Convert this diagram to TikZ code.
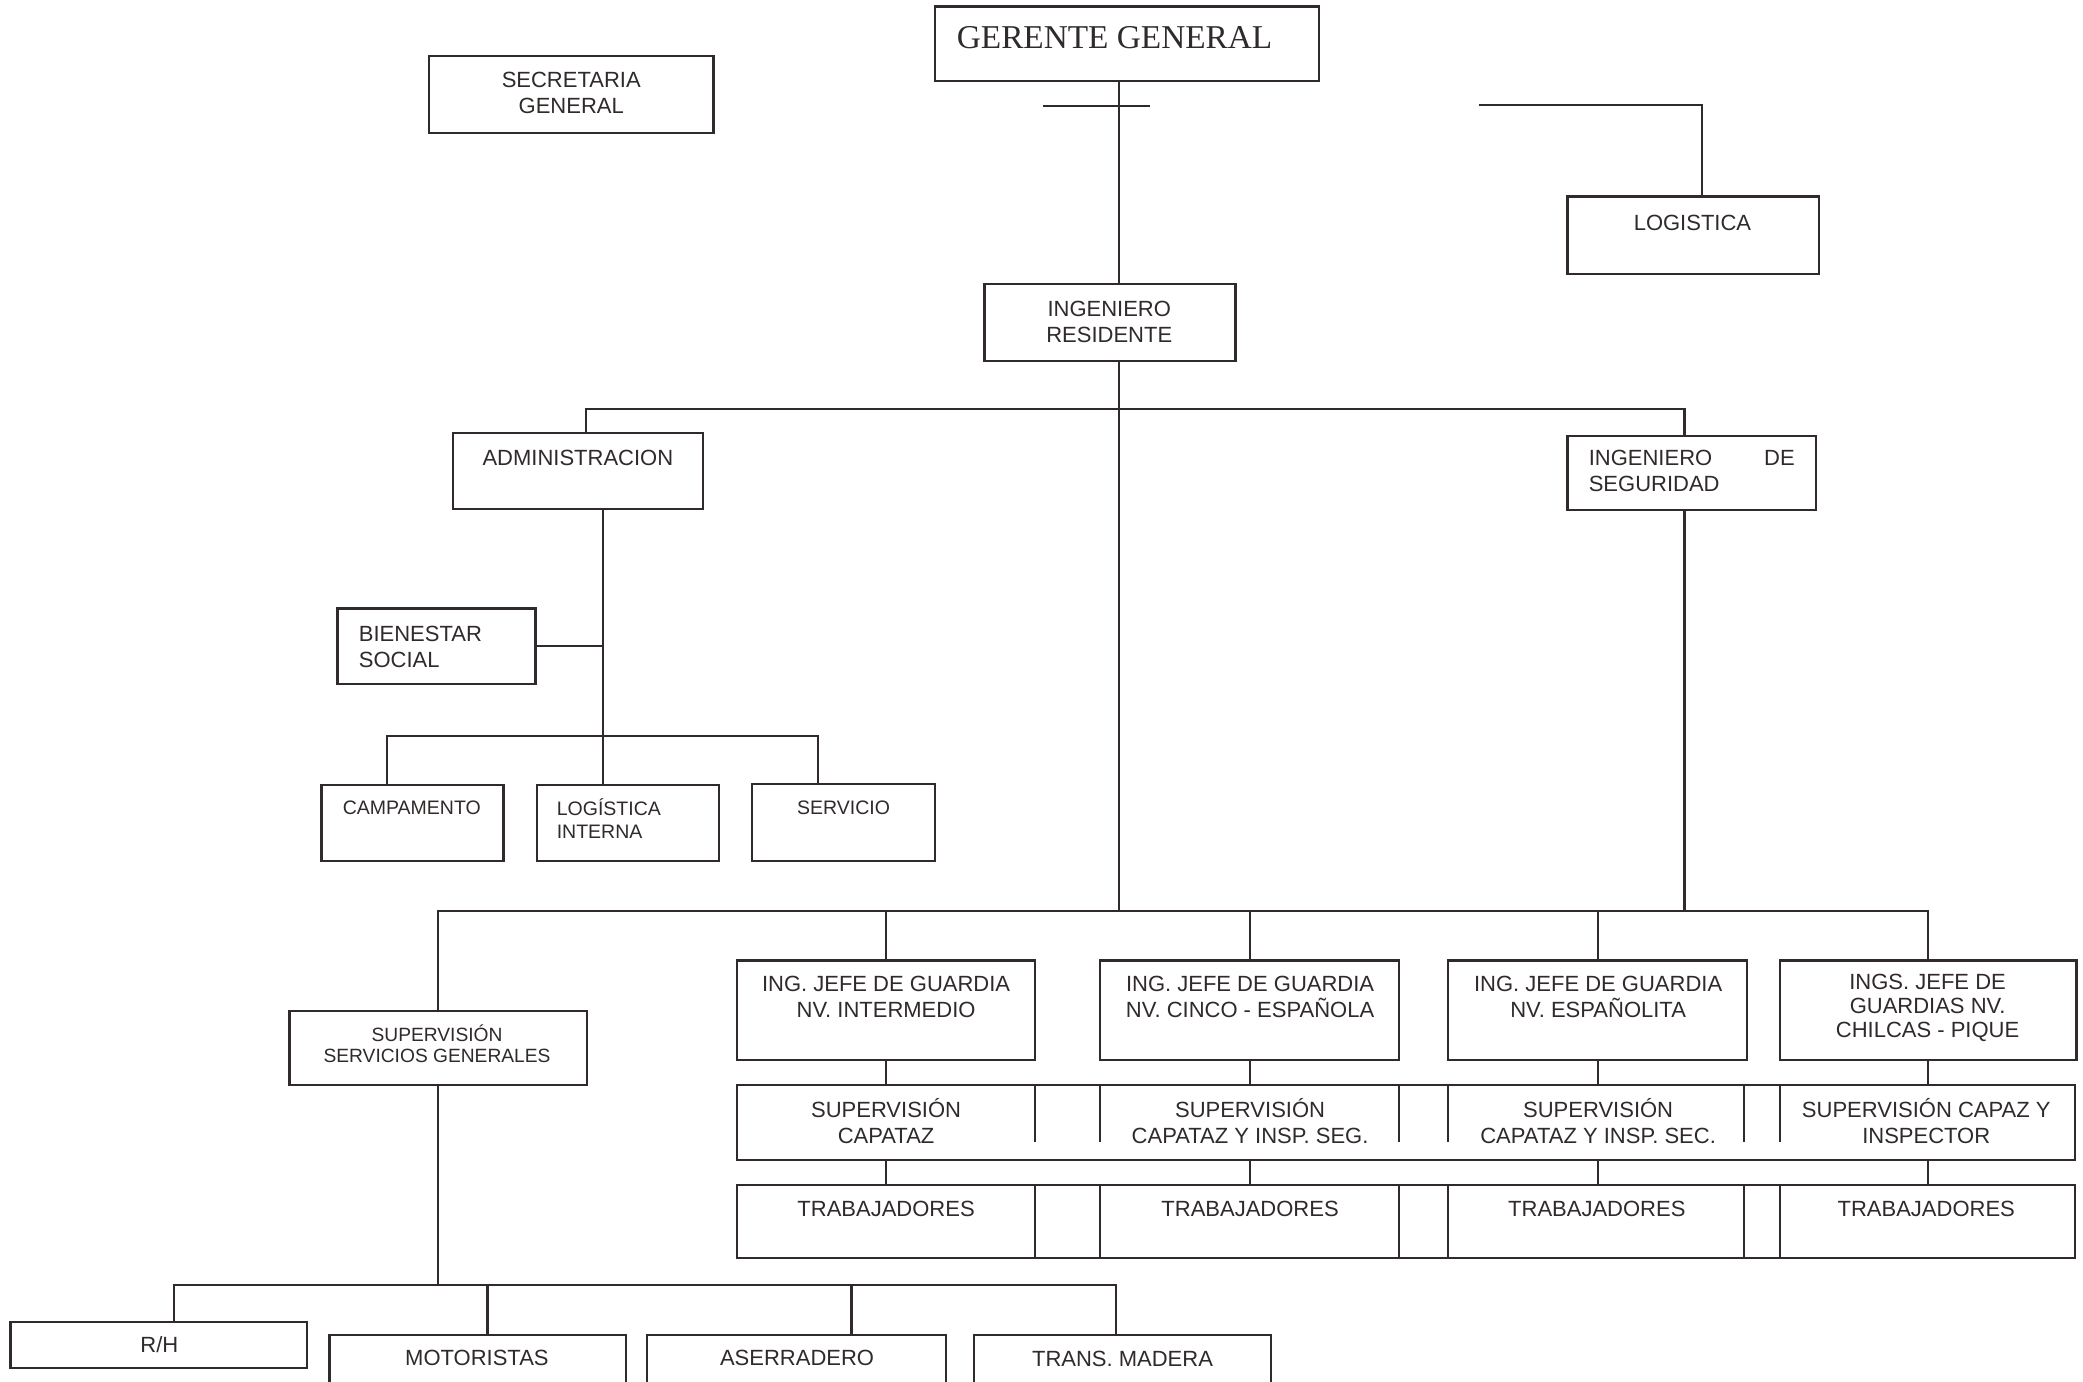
\documentclass[tikz,border=0pt]{standalone}
\usepackage{fontspec}
\setmainfont{Liberation Sans}
\newfontfamily\serifont{Liberation Serif}
\usetikzlibrary{calc}
\definecolor{ink}{RGB}{48,42,42}
\newcommand\orgbox[5]{%
  \node[box, minimum width={(#4-#2)*1.3284pt}, minimum height={(#5-#3)*1.3284pt}] (#1) at ({(#2+#4)/2},{(#3+#5)/2}) {};}
\begin{document}
\begin{tikzpicture}[x=1.3284pt,y=-1.3284pt,
  box/.style={draw=ink, line width=2.3pt, inner sep=0pt, outer sep=0pt},
  conn/.style={draw=ink, line width=2.1pt},
  txt/.style={text=ink, font=\fontsize{22}{26}\selectfont, align=center, inner sep=0pt},
  txtm/.style={text=ink, font=\fontsize{19.5}{23}\selectfont, align=center, inner sep=0pt},
  txtb/.style={text=ink, font=\fontsize{22}{26}\selectfont, align=center, inner sep=0pt},
  txts/.style={text=ink, font=\fontsize{19.2}{21}\selectfont, align=center, inner sep=0pt},
  ttl/.style={text=ink, font=\serifont\fontsize{33.3}{40}\selectfont, inner sep=0pt}]
\useasboundingbox (0,0) rectangle (1568,1040);
\fill[white] (0,0) rectangle (1568,1040);
\clip (0,0) rectangle (1568,1040);

% boxes
\orgbox{ger}{704}{5}{993}{61}
\orgbox{sec}{323}{42}{537}{100}
\orgbox{log}{1180}{148}{1369}{206}
\orgbox{ing}{741}{214}{930}{272}
\orgbox{adm}{341}{326}{529}{383}
\orgbox{seg}{1180}{328}{1367}{384}
\orgbox{bs}{254}{458}{403}{515}
\orgbox{camp}{242}{591}{379}{648}
\orgbox{li}{404}{591}{541}{648}
\orgbox{serv}{566}{590}{704}{648}
\orgbox{ja}{555}{723}{779}{798}
\orgbox{jb}{828}{723}{1053}{798}
\orgbox{jc}{1090}{723}{1315}{798}
\orgbox{jd}{1340}{723}{1563}{798}
\orgbox{sup}{555}{817}{1562}{873}
\orgbox{tra}{555}{892}{1562}{947}
\orgbox{ssg}{218}{761}{442}{817}
\orgbox{rh}{8}{995}{231}{1030}
\orgbox{mot}{248}{1005}{471}{1070}
\orgbox{ase}{487}{1005}{712}{1070}
\orgbox{tm}{733}{1005}{957}{1070}

% column separators of the two wide rows
\foreach \x in {779,828,1053,1090,1313,1340}{
  \draw[conn] (sup.north -| \x,0) -- (\x,860);
  \draw[conn] (tra.north -| \x,0) -- (tra.south -| \x,0);
}

% texts
\node[ttl] (t-ger) at (839,28) {GERENTE GENERAL};
\node[txt] (t-sec) at (430,70) {SECRETARIA\\GENERAL};
\node[txt] (t-log) at (1274,168) {LOGISTICA};
\node[txt] (t-ing) at (835,242.5) {INGENIERO\\RESIDENTE};
\node[txt] (t-adm) at (435,345) {ADMINISTRACION};
\node[txt, align=left] (t-seg) at (1273.5,354.5) {\parbox{206pt}{INGENIERO\hfill DE\\SEGURIDAD}};
\node[txt, align=left, anchor=west] (t-bs) at (270,487) {BIENESTAR\\SOCIAL};
\node[txtm] (t-camp) at (310,608) {CAMPAMENTO};
\node[txtm, align=left, anchor=west] (t-li) at (419,616.5) {LOGÍSTICA\\INTERNA};
\node[txtm] (t-serv) at (635,608) {SERVICIO};
\node[txt] (t-ja) at (667,750.5) {ING. JEFE DE GUARDIA\\NV. INTERMEDIO};
\node[txt] (t-jb) at (941,750.5) {ING. JEFE DE GUARDIA\\NV. CINCO - ESPAÑOLA};
\node[txt] (t-jc) at (1203,750.5) {ING. JEFE DE GUARDIA\\NV. ESPAÑOLITA};
\node[txt, font=\fontsize{22}{24}\selectfont] (t-jd) at (1451,759) {INGS. JEFE DE\\GUARDIAS NV.\\CHILCAS - PIQUE};
\node[txt] (t-sa) at (667,844) {SUPERVISIÓN\\CAPATAZ};
\node[txt] (t-sb) at (941,844) {SUPERVISIÓN\\CAPATAZ Y INSP. SEG.};
\node[txt] (t-sc) at (1203,844) {SUPERVISIÓN\\CAPATAZ Y INSP. SEC.};
\node[txt] (t-sd) at (1450,844) {SUPERVISIÓN CAPAZ Y\\INSPECTOR};
\node[txt] (t-ta) at (667,910) {TRABAJADORES};
\node[txt] (t-tb) at (941,910) {TRABAJADORES};
\node[txt] (t-tc) at (1202,910) {TRABAJADORES};
\node[txt] (t-td) at (1450,910) {TRABAJADORES};
\node[txts] (t-ssg) at (329,786) {SUPERVISIÓN\\SERVICIOS GENERALES};
\node[txtb] (t-rh) at (120,1012) {R/H};
\node[txtb] (t-mot) at (359,1022) {MOTORISTAS};
\node[txtb] (t-ase) at (600,1022) {ASERRADERO};
\node[txtb] (t-tm) at (845,1023) {TRANS. MADERA};

% connectors
\coordinate (tk) at (842,686);
\coordinate (ckL) at (785,80);
\coordinate (ckR) at (866,80);
\coordinate (lgs) at (1113,79);
\draw[conn] (ger.south -| tk) -- (ing.north -| tk);
\draw[conn] (ing.south -| tk) -- (tk);
\draw[conn] (ckL) -- (ckR);
\draw[conn] (lgs) -| (log.north -| 1281,0);

\coordinate (b1) at (441,308);
\coordinate (b2) at (1268,308);
\draw[conn] (adm.north -| b1) -- (b1) -- (b2) -- (seg.north -| b2);
\draw[conn] (adm.south -| 454,0) -- (li.north -| 454,0);
\draw[conn] (bs.east) -- (bs.east -| 454,0);
\coordinate (c1) at (291,554);
\coordinate (c2) at (616,554);
\draw[conn] (camp.north -| c1) -- (c1) -- (c2) -- (serv.north -| c2);

\coordinate (d1) at (330,686);
\coordinate (d2) at (1451,686);
\draw[conn] (seg.south -| b2) -- (b2 |- d1);
\draw[conn] (ssg.north -| d1) -- (d1) -- (d2) -- (jd.north -| d2);
\foreach \n/\x in {ja/667,jb/941,jc/1203,jd/1451}{
  \draw[conn] (\n.north -| \x,0) -- (\x,686);
  \draw[conn] (\n.south -| \x,0) -- (sup.north -| \x,0);
  \draw[conn] (sup.south -| \x,0) -- (tra.north -| \x,0);
}

\coordinate (e1) at (131,967);
\coordinate (e2) at (840,967);
\draw[conn] (ssg.south) -- (ssg.south |- e1);
\draw[conn] (rh.north -| e1) -- (e1) -- (e2) -- (tm.north -| e2);
\draw[conn] (mot.north -| 367,0) -- (367,967);
\draw[conn] (ase.north -| 641,0) -- (641,967);
\end{tikzpicture}
\end{document}
